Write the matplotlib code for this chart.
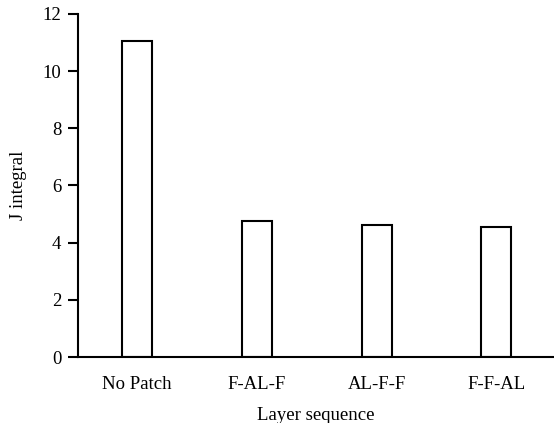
import matplotlib.pyplot as plt

# Datos
categorias = ['No Patch', 'F-AL-F', 'AL-F-F', 'F-F-AL']
j_integral = [11.05, 4.77, 4.63, 4.55]

plt.rcParams['font.family'] = 'Liberation Serif'
plt.rcParams['font.size'] = 13.5

fig = plt.figure(figsize=(5.54, 4.23), dpi=100)
ax = fig.add_axes([0.141, 0.156, 0.859, 0.811])

x = range(len(categorias))
ax.bar(x, j_integral, width=0.25, color='white', edgecolor='black', linewidth=1.5)

ax.set_xlim(-0.49, 3.48)
ax.set_ylim(0, 12)
ax.set_yticks(range(0, 13, 2))
ax.set_xticks(list(x))
ax.set_xticklabels(categorias)
ax.tick_params(axis='x', length=0, pad=14)
ax.tick_params(axis='y', length=7, width=1.5, direction='out', pad=5)

ax.spines['top'].set_visible(False)
ax.spines['right'].set_visible(False)
ax.spines['left'].set_linewidth(1.5)
ax.spines['bottom'].set_linewidth(1.5)

ax.set_xlabel('Layer sequence', labelpad=10)
ax.set_ylabel('J integral', labelpad=11)

plt.savefig('out.png', dpi=100)
